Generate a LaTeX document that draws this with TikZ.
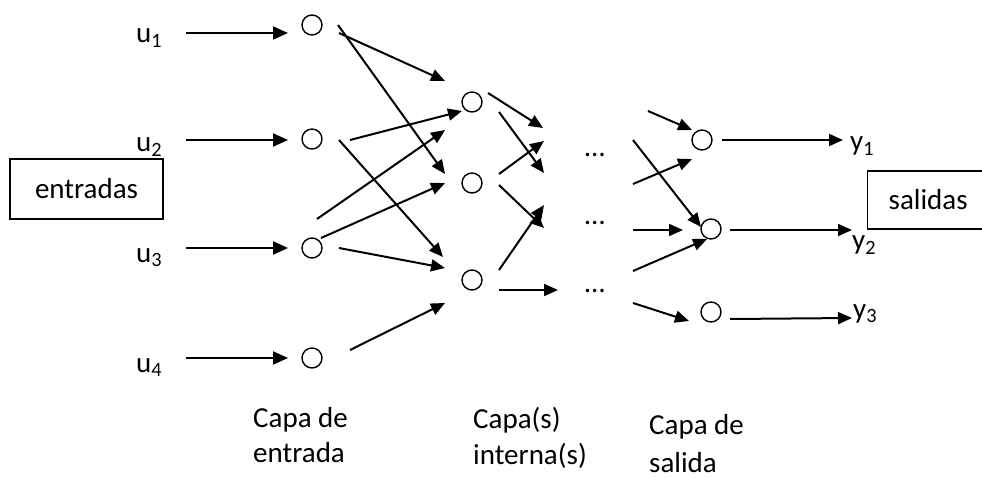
\documentclass[tikz,border=0pt]{standalone}
\usepackage{fontspec}
\setmainfont{Carlito}
\usetikzlibrary{arrows.meta,calc}
\begin{document}
\begin{tikzpicture}[x=1pt,y=-1pt,
  font=\fontsize{29}{35}\selectfont,
  arr/.style={line width=2pt, -{Triangle[length=14pt,width=12pt]}},
  inarr/.style={line width=2pt, -{Triangle[length=15pt,width=13pt]}},
  neuron/.style={circle, draw, line width=1.4pt, minimum size=20pt, inner sep=0pt},
  box/.style={draw, line width=1.3pt, inner sep=0pt},
  lbl/.style={anchor=base west, inner sep=0pt},
  dots/.style={inner sep=0pt, anchor=center},
  caption/.style={anchor=base west, inner sep=0pt, align=left}]
\useasboundingbox (0,0) rectangle (982,478);

% boxes
\node[box, minimum width=153pt, minimum height=60pt] (ent) at (86.5,189) {entradas};
\node[box, anchor=west, inner xsep=21pt, minimum height=58pt] (sal) at (867,200) {salidas\hspace{40pt}};

% input layer
\node[neuron] (I1) at (312,25) {};
\node[neuron] (I2) at (312,139) {};
\node[neuron] (I3) at (312,248) {};
\node[neuron] (I4) at (312,358) {};
% hidden layer
\node[neuron] (H1) at (472,102) {};
\node[neuron] (H2) at (472,183) {};
\node[neuron] (H3) at (472,280) {};
% dots
\node[dots] (D1) at (595,155) {…};
\node[dots] (D2) at (595,223) {…};
\node[dots] (D3) at (595,291) {…};
% output layer
\node[neuron] (O1) at (702,140) {};
\node[neuron] (O2) at (711,229) {};
\node[neuron] (O3) at (711,312) {};

% input labels
\node[lbl] (u1) at (136,43) {u\textsubscript{1}};
\node[lbl] (u2) at (136,152) {u\textsubscript{2}};
\node[lbl] (u3) at (136,262) {u\textsubscript{3}};
\node[lbl] (u4) at (136,372) {u\textsubscript{4}};
% output labels
\node[lbl] (y1) at (850,151) {y\textsubscript{1}};
\node[lbl] (y2) at (852,250) {y\textsubscript{2}};
\node[lbl] (y3) at (853,318) {y\textsubscript{3}};

% captions (base = baseline of last line)
\node[caption, font=\fontsize{29}{35}\selectfont] (c1) at (253,462) {Capa de\\entrada};
\node[caption, font=\fontsize{29}{36}\selectfont] (c2) at (473,464) {Capa(s)\\interna(s)};
\node[caption, font=\fontsize{29}{38}\selectfont] (c3) at (649,472) {Capa de\\salida};

% input arrows
\draw[inarr] ($(I1)+(-126,8)$) -- ($(I1)+(-24,8)$);
\draw[inarr] ($(I2)+(-126,1)$) -- ($(I2)+(-24,1)$);
\draw[inarr] ($(I3)+(-126,0)$) -- ($(I3)+(-24,0)$);
\draw[inarr] ($(I4)+(-126,0)$) -- ($(I4)+(-24,0)$);

% input -> hidden
\draw[arr] ($(I1)+(26,0)$) -- ($(H2)+(-27,-9)$);
\draw[arr] ($(I1)+(27,8)$) -- ($(H1)+(-27,-21)$);
\draw[arr] ($(I2)+(38,1)$) -- ($(H1)+(-10,9)$);
\draw[arr] ($(I2)+(27,1)$) -- ($(H3)+(-29,-23)$);
\draw[arr] ($(I3)+(5,-29)$) -- ($(H1)+(-27,28)$);
\draw[arr] ($(I3)+(9,-10)$) -- ($(H2)+(-27,0)$);
\draw[arr] ($(I3)+(27,0)$) -- ($(H3)+(-27,-12)$);
\draw[arr] ($(I4)+(38,-8)$) -- ($(H3)+(-27,23)$);

% hidden -> dots
\draw[arr] ($(H1)+(16,-9)$) -- ($(D1)+(-52,-27)$);
\draw[arr] ($(H1)+(27,10)$) -- ($(D1)+(-51,18)$);
\draw[arr] ($(H2)+(27,-9)$) -- ($(D1)+(-51,-14)$);
\draw[arr] ($(H2)+(27,2)$) -- ($(D2)+(-51,5)$);
\draw[arr] ($(H3)+(27,-10)$) -- ($(D2)+(-51,-18)$);
\draw[arr] ($(H3)+(27,10)$) -- ($(D3)+(-37,-1)$);

% dots -> output
\draw[arr] ($(D1)+(53,-44)$) -- ($(O1)+(-10,-10)$);
\draw[arr] ($(D1)+(38,-15)$) -- ($(O2)+(-10,-2)$);
\draw[arr] ($(D2)+(38,-39)$) -- ($(O1)+(-10,19)$);
\draw[arr] ($(D2)+(38,7)$) -- ($(O2)+(-28,1)$);
\draw[arr] ($(D3)+(38,-20)$) -- ($(O2)+(-4,10)$);
\draw[arr] ($(D3)+(38,12)$) -- ($(O3)+(-22,9)$);

% output arrows
\draw[arr] ($(O1)+(20,0)$) -- ($(O1)+(141,0)$);
\draw[arr] ($(O2)+(19,1)$) -- ($(O2)+(141,1)$);
\draw[arr] ($(O3)+(19,7)$) -- ($(O3)+(141,6)$);
\end{tikzpicture}
\end{document}
